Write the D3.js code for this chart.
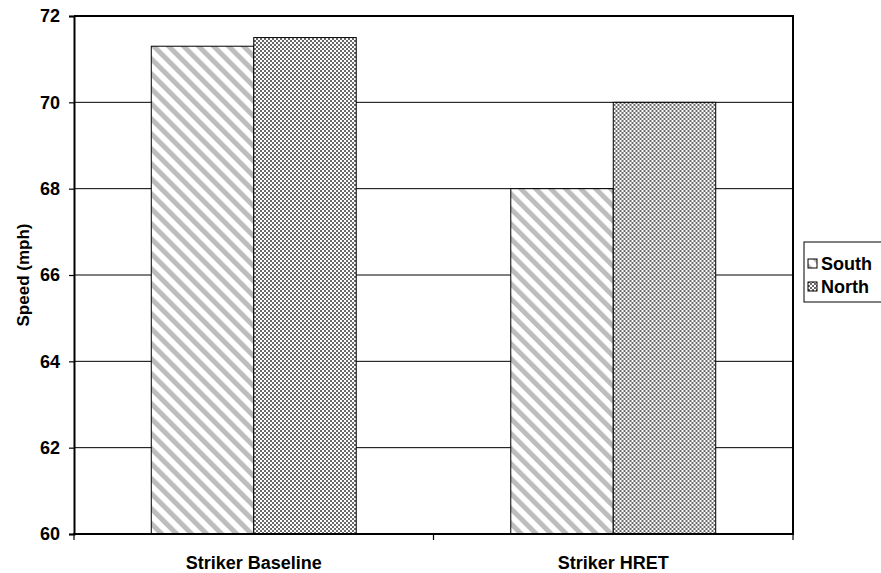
<!DOCTYPE html>
<html>
<head>
<meta charset="utf-8">
<script src="https://cdn.jsdelivr.net/npm/d3@7"></script>
<style>
  html, body { margin: 0; padding: 0; background: #fff; }
  svg { display: block; font-family: "Liberation Sans", Arial, sans-serif; }
</style>
</head>
<body>
<svg id="chart" width="881" height="573"></svg>
<script>
// Average speed by treatment and direction
const categories = ["Striker Baseline", "Striker HRET"];
const seriesNames = ["South", "North"];
const southValues = [71.3, 68.0];
const northValues = [71.5, 70.0];
const yTicks = [60, 62, 64, 66, 68, 70, 72];

const svg = d3.select("#chart");
const m = { left: 74, right: 793, top: 16, bottom: 534 };

const x0 = d3.scaleBand().domain(categories).range([m.left, m.right]).paddingInner(0).paddingOuter(0);
const x1 = d3.scaleBand().domain(seriesNames).range([0, x0.bandwidth()]).paddingInner(0).paddingOuter(0.754);
const y = d3.scaleLinear().domain([60, 72]).range([m.bottom, m.top]);

// fill patterns: grey diagonal stripes and a fine checkerboard
const defs = svg.append("defs");
const diag = defs.append("pattern")
  .attr("id", "diag").attr("patternUnits", "userSpaceOnUse")
  .attr("width", 10.6).attr("height", 10.6)
  .attr("patternTransform", "rotate(-45)");
diag.append("rect").attr("width", 10.6).attr("height", 10.6).attr("fill", "#fff");
diag.append("rect").attr("x", 0).attr("width", 5).attr("height", 10.6).attr("fill", "#bdbdbd");

const check = defs.append("pattern")
  .attr("id", "check").attr("patternUnits", "userSpaceOnUse")
  .attr("width", 4).attr("height", 4);
check.append("rect").attr("width", 4).attr("height", 4).attr("fill", "#fff");
check.append("rect").attr("x", 0).attr("y", 0).attr("width", 2).attr("height", 2).attr("fill", "#6a6a6a");
check.append("rect").attr("x", 2).attr("y", 2).attr("width", 2).attr("height", 2).attr("fill", "#6a6a6a");

const fills = { South: "url(#diag)", North: "url(#check)" };

// horizontal gridlines
svg.append("g").selectAll("line")
  .data(yTicks.filter(t => t > 60 && t < 72))
  .join("line")
  .attr("x1", m.left).attr("x2", m.right)
  .attr("y1", d => y(d)).attr("y2", d => y(d))
  .attr("stroke", "#000").attr("stroke-width", 1);

// bars
const rows = categories.map((c, i) => ({ cat: c, vals: [
  { s: "South", v: southValues[i] },
  { s: "North", v: northValues[i] }
]}));
const groups = svg.append("g").selectAll("g").data(rows).join("g")
  .attr("transform", d => `translate(${x0(d.cat)},0)`);
groups.selectAll("rect").data(d => d.vals).join("rect")
  .attr("x", d => x1(d.s))
  .attr("y", d => y(d.v))
  .attr("width", x1.bandwidth())
  .attr("height", d => y(60) - y(d.v))
  .attr("fill", d => fills[d.s])
  .attr("stroke", "#000").attr("stroke-width", 1);

// plot frame (top and right)
svg.append("path")
  .attr("d", `M${m.left},${m.top}H${m.right}V${m.bottom}`)
  .attr("fill", "none").attr("stroke", "#000").attr("stroke-width", 2);

// y axis
const yAxis = svg.append("g").attr("transform", `translate(${m.left},0)`)
  .call(d3.axisLeft(y).tickValues(yTicks).tickSize(5).tickPadding(9).tickFormat(d3.format("d")));
yAxis.select(".domain").attr("stroke-width", 2);
yAxis.selectAll(".tick line").attr("stroke-width", 1.2);
yAxis.selectAll("text").attr("font-size", 18).attr("font-weight", "bold").attr("fill", "#000")
  .attr("font-family", "'Liberation Sans', Arial, sans-serif");

// x axis: ticks at category boundaries
const xAxis = svg.append("g").attr("transform", `translate(0,${m.bottom})`);
xAxis.append("line").attr("x1", m.left - 1).attr("x2", m.right + 1).attr("y1", 0).attr("y2", 0)
  .attr("stroke", "#000").attr("stroke-width", 2);
const bounds = [m.left, x0(categories[1]), m.right];
xAxis.selectAll("line.tk").data(bounds).join("line").attr("class", "tk")
  .attr("x1", d => d).attr("x2", d => d).attr("y1", 0).attr("y2", 6)
  .attr("stroke", "#000").attr("stroke-width", 1.2);
xAxis.selectAll("text").data(categories).join("text")
  .attr("x", d => x0(d) + x0.bandwidth() / 2)
  .attr("y", 35)
  .attr("text-anchor", "middle")
  .attr("font-size", 18).attr("font-weight", "bold").attr("fill", "#000")
  .text(d => d);

// y axis title
svg.append("text")
  .attr("transform", `translate(29,${(m.top + m.bottom) / 2}) rotate(-90)`)
  .attr("text-anchor", "middle")
  .attr("font-size", 17).attr("font-weight", "bold")
  .text("Speed (mph)");

// legend
const lg = svg.append("g").attr("transform", "translate(804,242)");
lg.append("rect").attr("x", 0).attr("y", 0).attr("width", 90).attr("height", 60)
  .attr("fill", "#fff").attr("stroke", "#000").attr("stroke-width", 1);
const items = lg.selectAll("g.item").data(seriesNames).join("g").attr("class", "item")
  .attr("transform", (d, i) => `translate(4,${28 + i * 23})`);
items.append("rect").attr("x", 0).attr("y", -11).attr("width", 9).attr("height", 9)
  .attr("fill", d => fills[d]).attr("stroke", "#000").attr("stroke-width", 1);
items.append("text").attr("x", 13).attr("y", 0)
  .attr("font-size", 18).attr("font-weight", "bold").text(d => d);
</script>
</body>
</html>
